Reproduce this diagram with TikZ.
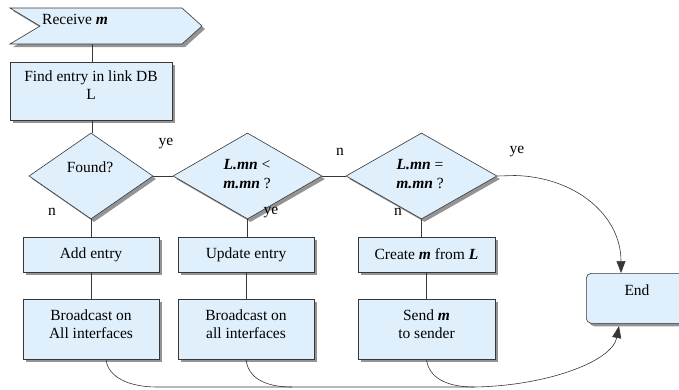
\documentclass[tikz,border=0pt]{standalone}
\usepackage{fontspec}
\setmainfont{Liberation Serif}
\usetikzlibrary{shapes.geometric,shadows,arrows.meta}
\definecolor{boxfill}{RGB}{223,239,251}
\definecolor{edgecol}{RGB}{55,55,55}
\newcommand{\bi}[1]{\textbf{\textit{#1}}}
\begin{document}
\begin{tikzpicture}[x=1pt,y=-1pt, font=\fontsize{15.5}{17.5}\selectfont,
  shad/.style={drop shadow={shadow xshift=3pt,shadow yshift=-3pt,fill=black!42,opacity=1}},
  box/.style={draw=edgecol, fill=boxfill, shad, line width=0.6pt, inner sep=0pt},
  dec/.style={box, diamond, minimum height=86pt},
  rbox/.style={box, rectangle, minimum width=136pt},
  conn/.style={draw=edgecol, line width=0.6pt},
  arr/.style={conn, -{Triangle[length=12pt,width=9pt]}},
  txt/.style={inner sep=0pt, align=center}]
\useasboundingbox (0,0) rectangle (679,389);
\begin{scope}
\clip (0,0) rectangle (679,389);
% Receive
\path[box] (10,8) -- (182,8) -- (202,26) -- (182,44) -- (10,44) -- (40,26) -- cycle;
\node[txt, anchor=west] (recvtxt) at (42,19) {Receive \bi{m}};
\coordinate (recv) at (92,44);
% Find entry
\node[box, minimum width=162pt, minimum height=58pt] (find) at (91,91) {};
\node[txt] (findtxt) at (91,85) {Find entry in link DB\\L};
% diamonds
\node[dec, minimum width=124pt] (d1) at (91,176) {};
\node[txt] (d1txt) at (90,167) {Found?};
\node[dec, minimum width=149pt] (d2) at (247.5,176) {};
\node[txt] (d2txt) at (247,174) {\bi{L.mn} <\\[1pt]\bi{m.mn} ?};
\node[dec, minimum width=151pt] (d3) at (421.5,176) {};
\node[txt] (d3txt) at (420,174) {\bi{L.mn} =\\[1pt]\bi{m.mn} ?};
% boxes
\node[rbox, minimum height=35pt] (add) at (91,254.5) {Add entry};
\node[rbox, minimum height=60pt] (bc1) at (91,329) {};
\node[txt] (bc1txt) at (91,324) {Broadcast on\\All interfaces};
\node[rbox, minimum height=35pt] (upd) at (246,254.5) {Update entry};
\node[rbox, minimum height=60pt] (bc2) at (246,329) {};
\node[txt] (bc2txt) at (246,324) {Broadcast on\\all interfaces};
\node[rbox, minimum height=35pt, minimum width=137pt] (cre) at (426.5,254.5) {Create \bi{m} from \bi{L}};
\node[rbox, minimum height=60pt, minimum width=137pt] (send) at (426.5,329) {};
\node[txt] (sendtxt) at (426.5,324) {Send \bi{m}\\to sender};
\node[box, rounded corners=5pt, minimum width=120pt, minimum height=50pt, anchor=north west] (end) at (586,273) {};
\node[txt] (endtxt) at (637,290) {End};
% labels
\node[txt] (ye1) at (166,144) {ye};
\node[txt] (n1) at (52,212) {n};
\node[txt] (ye2) at (271,213) {ye};
\node[txt] (n2) at (340,152) {n};
\node[txt] (n3) at (398,212) {n};
\node[txt] (ye3) at (517,152) {ye};
% connectors
\draw[conn] (recv) -- (recv |- find.north);
\draw[conn] (recv |- find.south) -- (recv |- d1.north);
\draw[conn] (d1.south) -- (d1.south |- add.north);
\draw[conn] (add.south) -- (bc1.north);
\draw[conn] (d1.east) -- (d2.west);
\draw[conn] (d2.east) -- (d3.west);
\draw[conn] (d2.south) -- (d2.south |- upd.north);
\draw[conn] (upd.south) -- (bc2.north);
\draw[conn] (d3.south) -- (d3.south |- cre.north);
\draw[conn] (cre.south) -- (send.north);
\coordinate (endin) at (621,273);
\coordinate (endout) at (619,326);
\coordinate (j1) at (157,387);
\coordinate (j2) at (292,387);
\coordinate (j3) at (474,387);
\draw[arr] (d3.east) -- (515,175.5) .. controls (575,177) and (621,215) .. (endin);
\draw[conn] ([xshift=15pt]bc1.south) .. controls +(2,18) and +(-28,0) .. (j1) -- (j3);
\draw[conn] (bc2.south) .. controls +(2,18) and +(-28,0) .. (j2);
\draw[arr] (send.south) .. controls +(2,18) and +(-28,0) .. (j3) .. controls (545,386) and (612,362) .. (endout);
\end{scope}
\end{tikzpicture}
\end{document}
